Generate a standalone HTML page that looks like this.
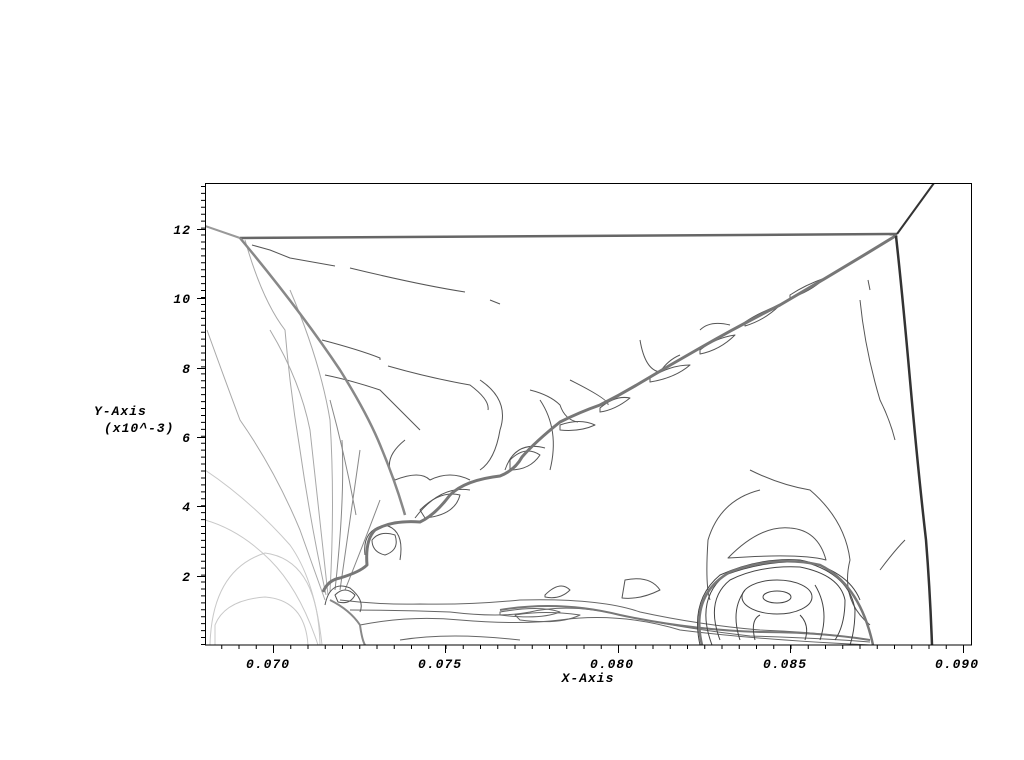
<!DOCTYPE html>
<html><head><meta charset="utf-8"><style>
html,body{margin:0;padding:0;background:#fff;width:1024px;height:760px;overflow:hidden}
svg{display:block}
text{font-family:"Liberation Mono",monospace;font-weight:bold;font-style:italic;font-size:13px;letter-spacing:1px;fill:#000}
</style></head><body>
<svg width="1024" height="760" viewBox="0 0 1024 760">
<defs><clipPath id="c"><rect x="205" y="183" width="767" height="462"/></clipPath></defs>
<g clip-path="url(#c)" fill="none" stroke-linejoin="round">
<g stroke="#c8c8c8" stroke-width="1">
<path d="M215,645 L215,625 Q225,600 265,597 Q305,600 308,645"/>
<path d="M210,645 Q212,570 265,553 Q318,560 320,645"/>
<path d="M205,520 Q240,530 270,560 Q300,590 318,645"/>
<path d="M205,470 Q250,500 290,545 Q315,580 322,645"/>
</g>
<g stroke="#a8a8a8" stroke-width="1">
<path d="M207,330 Q225,380 240,420 Q275,470 300,530 Q318,580 325,600"/>
<path d="M245,240 Q262,300 285,330 Q290,390 300,450 Q310,520 326,595"/>
<path d="M270,330 Q300,380 310,430 Q318,500 328,595"/>
<path d="M290,290 Q320,360 330,420 Q335,500 330,592"/>
</g>
<g stroke="#888" stroke-width="1">
<path d="M342,440 Q345,500 335,590"/>
<path d="M360,450 Q350,520 340,590"/>
<path d="M380,500 Q365,540 345,590"/>
<path d="M330,400 Q345,455 356,515"/>
</g>
<g stroke="#555" stroke-width="1">
<path d="M252,245 L270,250 L290,258 L335,266"/>
<path d="M350,268 Q420,285 465,292"/>
<path d="M490,300 L500,304"/>
<path d="M322,340 Q360,350 380,358 L380,360"/>
<path d="M388,366 Q430,378 470,385 Q490,400 488,410"/>
<path d="M325,375 Q350,380 380,390 Q400,410 420,430"/>
<path d="M405,440 Q380,460 395,480 Q420,470 430,480 Q450,470 470,480"/>
<path d="M480,380 Q510,400 500,430 Q495,460 480,470"/>
<path d="M540,400 Q560,430 550,470"/>
<path d="M530,390 Q550,395 560,405 Q565,420 578,422"/>
<path d="M570,380 Q610,400 608,405"/>
<path d="M640,340 Q645,370 660,372 Q668,360 680,355"/>
<path d="M700,330 Q710,320 730,325"/>
<path d="M860,300 Q865,350 880,400 Q890,420 895,440"/>
<path d="M868,280 L870,290"/>
<path d="M750,470 Q780,485 810,490 Q845,520 850,560 Q840,600 870,625"/>
<path d="M760,490 Q720,500 708,540 Q705,585 710,600"/>
<path d="M728,558 Q760,525 790,528 Q818,530 826,560 Q800,553 728,558Z"/>
<path d="M545,595 Q560,580 570,590 Q560,600 545,597Z"/>
<path d="M625,580 Q650,575 660,590 Q640,600 622,598Z"/>
<path d="M880,570 Q895,550 905,540"/>
</g>
<g stroke="#666" stroke-width="1">
<path d="M340,600 Q380,605 420,604 Q470,605 520,600 Q600,598 640,612 Q700,625 760,630 Q820,632 870,640"/>
<path d="M350,610 Q400,610 450,612 Q500,618 530,612 Q570,603 620,615 Q680,628 750,636 Q820,638 870,642"/>
<path d="M360,625 Q410,615 460,620 Q520,625 560,620 Q620,612 680,630 Q760,640 870,645"/>
<path d="M500,612 Q540,605 560,612 Q540,620 500,615Z"/>
<path d="M515,615 Q545,610 580,615 Q560,625 520,620Z"/>
<path d="M400,640 Q450,632 520,640"/>
</g>
<path d="M500,610 Q560,600 620,615 Q690,630 760,632 Q820,632 870,640" stroke="#777" stroke-width="2"/>
<g stroke="#444" stroke-width="1">
<ellipse cx="777" cy="597" rx="14" ry="6"/>
<ellipse cx="777" cy="597" rx="35" ry="17"/>
<path d="M720,640 Q705,600 730,580 Q760,565 800,567 Q840,575 845,600 Q845,625 835,640"/>
<path d="M712,645 Q695,600 725,575 Q765,560 805,562 Q850,575 855,610 Q855,630 850,645"/>
<path d="M740,640 Q730,610 745,590 M815,585 Q830,610 820,640"/>
<path d="M700,645 Q690,600 720,575 Q760,557 800,560 Q848,570 860,600"/>
<path d="M755,640 Q750,620 760,615 M800,615 Q810,625 805,640"/>
</g>
<path d="M702,645 Q690,595 730,572 Q775,555 820,565 Q860,585 873,645" stroke="#777" stroke-width="2.5"/>
<g stroke="#555" stroke-width="1">
<path d="M335,595 Q345,585 355,595 Q350,605 338,602Z"/>
<path d="M325,605 Q330,580 350,588 Q365,600 360,612"/>
<path d="M372,540 Q380,530 395,535 Q400,550 385,555 Q372,552 372,540Z"/>
<path d="M365,555 Q362,530 385,525 Q405,530 400,560"/>
<path d="M420,510 Q440,490 460,495 Q455,515 425,518Z"/>
<path d="M415,518 Q440,485 470,490"/>
<path d="M510,460 Q525,445 540,455 Q530,470 510,470Z"/>
<path d="M505,470 Q515,440 545,448"/>
<path d="M560,425 Q580,418 595,425 Q580,432 560,430Z"/>
<path d="M600,408 Q615,395 630,398 Q615,410 600,412Z"/>
<path d="M650,378 Q670,365 690,365 Q675,378 650,382Z"/>
<path d="M700,350 Q715,338 735,335 Q720,350 700,354Z"/>
<path d="M745,322 Q760,312 780,305 Q765,320 745,326Z"/>
<path d="M790,295 Q805,285 825,278 Q810,292 790,298Z"/>
</g>
<path d="M323,592 Q328,580 340,578 Q360,572 367,565 Q365,540 375,530 Q392,520 420,522 Q435,515 450,495 Q465,480 500,476 Q515,470 522,457 Q535,442 560,422 Q580,412 600,405 Q620,395 640,383 Q670,365 700,348 Q740,325 780,305 Q840,270 897,235" stroke="#777" stroke-width="3"/>
<path d="M330,600 Q350,610 360,625 Q362,640 365,645" stroke="#888" stroke-width="2"/>
<path d="M205,226 L240,238" stroke="#999" stroke-width="2"/>
<path d="M240,238 L897,234" stroke="#666" stroke-width="2.5"/>
<path d="M897,234 L934,183" stroke="#333" stroke-width="2"/>
<path d="M240,238 Q300,310 340,370 Q365,410 378,440 Q395,480 405,515" stroke="#888" stroke-width="2.5"/>
<path d="M896,236 Q902,290 910,380 Q918,470 926,540 Q930,590 932,645" stroke="#333" stroke-width="2.5"/>
</g>
<rect x="205.5" y="183.5" width="766" height="461.5" fill="none" stroke="#000" stroke-width="1"/>
<path d="M203,645 L203,183" stroke="#000" stroke-width="4" stroke-dasharray="1 5.94" fill="none"/>
<path d="M221.25,647 L972,647" stroke="#000" stroke-width="4" stroke-dasharray="1 16.25" fill="none"/>
<g stroke="#000" stroke-width="1">
<path d="M197,229.5H205M197,298.5H205M197,368.5H205M197,437.5H205M197,506.5H205M197,576.5H205"/>
<path d="M273.5,645V653M445.5,645V653M618.5,645V653M790.5,645V653M963.5,645V653"/>
</g>
<g text-anchor="end">
<text x="191" y="234">12</text><text x="191" y="303">10</text><text x="191" y="373">8</text>
<text x="191" y="442">6</text><text x="191" y="511">4</text><text x="191" y="581">2</text>
</g>
<g text-anchor="middle">
<text x="268" y="668">0.070</text><text x="440" y="668">0.075</text><text x="612" y="668">0.080</text>
<text x="785" y="668">0.085</text><text x="957" y="668">0.090</text>
<text x="588" y="682">X-Axis</text>
</g>
<text x="94" y="415">Y-Axis</text>
<text x="104" y="432">(x10^-3)</text>
</svg>
</body></html>
